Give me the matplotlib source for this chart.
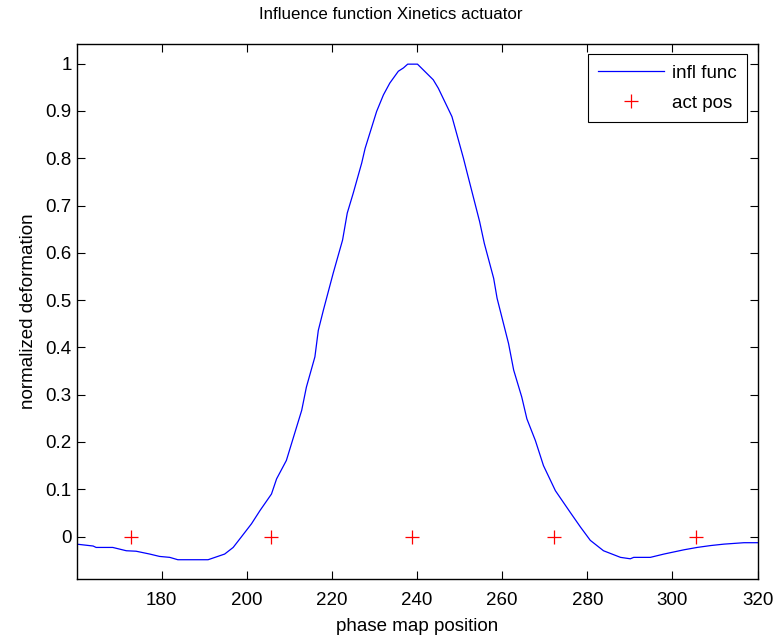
import numpy as np
import matplotlib.pyplot as plt

plt.rcParams['font.family'] = ['Liberation Sans', 'DejaVu Sans']

# influence function
pos = [160.0, 163.9, 164.6, 168.5, 171.7, 174.0, 177.2, 179.5, 181.9, 183.8,
       190.9, 194.8, 196.8, 198.7, 201.1, 203.1, 205.8, 207.0, 209.3, 212.9,
       214.0, 216.0, 216.8, 218.0, 220.3, 222.5, 223.6, 225.0, 227.0, 227.8,
       230.5, 232.1, 233.6, 235.6, 236.8, 237.8, 240.1, 243.8, 245.0, 248.2,
       250.9, 251.8, 254.7, 255.8, 258.0, 258.8, 261.5, 262.7, 264.6, 265.8,
       267.8, 269.7, 272.5, 276.0, 278.4, 280.7, 283.8, 287.8, 290.1, 290.9,
       294.8, 298.0, 302.7, 305.8, 309.0, 312.1, 316.8, 320.0]
infl = [-0.016, -0.020, -0.023, -0.023, -0.030, -0.031, -0.037, -0.042, -0.044, -0.049,
        -0.049, -0.037, -0.023, -0.001, 0.027, 0.055, 0.090, 0.122, 0.161, 0.267,
        0.316, 0.380, 0.436, 0.479, 0.557, 0.627, 0.684, 0.726, 0.790, 0.821,
        0.899, 0.934, 0.959, 0.984, 0.991, 0.999, 0.999, 0.966, 0.948, 0.888,
        0.800, 0.768, 0.666, 0.620, 0.546, 0.504, 0.408, 0.352, 0.295, 0.249,
        0.203, 0.150, 0.097, 0.051, 0.020, -0.008, -0.030, -0.044, -0.047, -0.044,
        -0.044, -0.037, -0.028, -0.023, -0.019, -0.016, -0.013, -0.013]

act_x = [172.9, 205.6, 238.9, 272.2, 305.6]
act_y = [0, 0, 0, 0, 0]

fs = 13.5

fig = plt.figure(figsize=(7.77, 6.35), dpi=100)
ax = fig.add_axes([0.0985, 0.088, 0.8765, 0.843])

ax.plot(pos, infl, color='#0000ff', lw=0.9, label='infl func')
ax.plot(act_x, act_y, '+', color='#ff0000', ms=10, mew=0.9, label='act pos')

ax.set_xlim(160, 320)
ax.set_ylim(-0.09, 1.042)
ax.set_xticks(np.arange(180, 321, 20))
ax.set_yticks(np.arange(0, 1.01, 0.1))
ax.set_yticklabels(['0', '0.1', '0.2', '0.3', '0.4', '0.5', '0.6', '0.7', '0.8', '0.9', '1'])
ax.tick_params(direction='in', top=True, right=True, length=6, width=0.8, labelsize=fs)
ax.tick_params(axis='x', pad=9)
ax.tick_params(axis='y', pad=3.5)
for s in ax.spines.values():
    s.set_linewidth(1.0)

ax.set_title('Influence function Xinetics actuator', fontsize=12.2, pad=18, x=0.462)
ax.set_xlabel('phase map position', fontsize=fs, labelpad=7)
ax.set_ylabel('normalized deformation', fontsize=fs, labelpad=6)

leg = ax.legend(loc='upper right', fontsize=fs, fancybox=False, edgecolor='black',
                framealpha=1, borderaxespad=0.55, handlelength=3.5, handletextpad=0.45,
                labelspacing=0.7, borderpad=0.55)
leg.get_frame().set_linewidth(0.8)

fig.savefig('out.png', dpi=100)
